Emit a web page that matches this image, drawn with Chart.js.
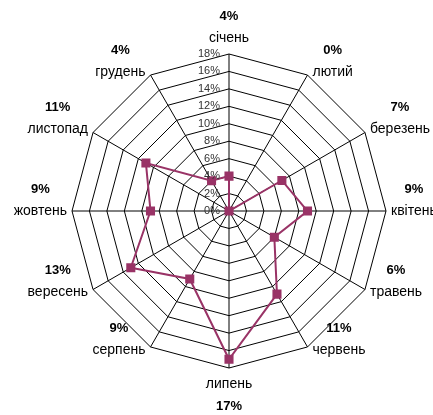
<!DOCTYPE html>
<html>
<head>
<meta charset="utf-8">
<script src="https://cdn.jsdelivr.net/npm/chart.js@4"></script>
<style>
  html, body { margin: 0; padding: 0; background: #fff; }
  #wrap { width: 433px; height: 415px; position: relative; }
</style>
</head>
<body>
<div id="wrap"><canvas id="radarChart"></canvas></div>
<script>
const months = ["січень", "лютий", "березень", "квітень", "травень", "червень",
  "липень", "серпень", "вересень", "жовтень", "листопад", "грудень"];
const shares = [4, 0, 7, 9, 6, 11, 17, 9, 13, 9, 11, 4];
const tickValues = [0, 2, 4, 6, 8, 10, 12, 14, 16, 18];

const fontFamily = "'Liberation Sans', Arial, sans-serif";
const lineColor = "#993366";

// month names, bold percentages and the tick labels are drawn here
const labelPlugin = {
  id: "monthLabels",
  afterDatasetsDraw(chart) {
    const scale = chart.scales.r;
    const ctx = chart.ctx;
    const outer = scale.getDistanceFromCenterForValue(scale.max);
    ctx.save();

    ctx.font = "11px " + fontFamily;
    ctx.fillStyle = "#333";
    ctx.textAlign = "right";
    ctx.textBaseline = "middle";
    tickValues.forEach((v) => {
      const d = scale.getDistanceFromCenterForValue(v);
      ctx.fillText(v + "%", scale.xCenter - 9, scale.yCenter - d);
    });

    months.forEach((name, i) => {
      const p = scale.getPointPosition(i, outer);
      const dx = p.x - scale.xCenter;
      const dy = p.y - scale.yCenter;
      let x = p.x, y = p.y, align = "center";
      if (Math.abs(dx) < 1) {
        y = dy < 0 ? p.y - 16 : p.y + 16;
      } else {
        align = dx > 0 ? "left" : "right";
        x = p.x + (dx > 0 ? 5 : -5);
        y = p.y + (dy < -1 ? -3 : dy > 1 ? 3 : 0);
      }
      ctx.font = "14px " + fontFamily;
      ctx.fillStyle = "#000";
      ctx.textAlign = align;
      ctx.fillText(name, x, y);
      const w = ctx.measureText(name).width;
      const cx = align === "left" ? x + w / 2 : align === "right" ? x - w / 2 : x;
      const py = (Math.abs(dx) < 1 && dy > 0) ? y + 22 : y - 22;
      ctx.font = "bold 13px " + fontFamily;
      ctx.textAlign = "center";
      ctx.fillText(shares[i] + "%", cx, py);
    });
    ctx.restore();
  }
};

new Chart(document.getElementById("radarChart"), {
  type: "radar",
  data: {
    labels: months,
    datasets: [{
      data: shares,
      borderColor: lineColor,
      backgroundColor: lineColor,
      borderWidth: 2,
      fill: false,
      pointStyle: "rect",
      pointRadius: 5,
      pointBackgroundColor: lineColor,
      pointBorderColor: lineColor,
      tension: 0
    }]
  },
  options: {
    responsive: true,
    maintainAspectRatio: false,
    animation: false,
    layout: { padding: { left: 72, right: 47, top: 54, bottom: 47 } },
    plugins: {
      legend: { display: false },
      tooltip: { enabled: false }
    },
    scales: {
      r: {
        min: 0,
        max: 18,
        ticks: { stepSize: 2, display: false },
        grid: { color: "#000", lineWidth: 1 },
        angleLines: { color: "#000", lineWidth: 1 },
        pointLabels: { display: false }
      }
    }
  },
  plugins: [labelPlugin]
});
</script>
</body>
</html>
